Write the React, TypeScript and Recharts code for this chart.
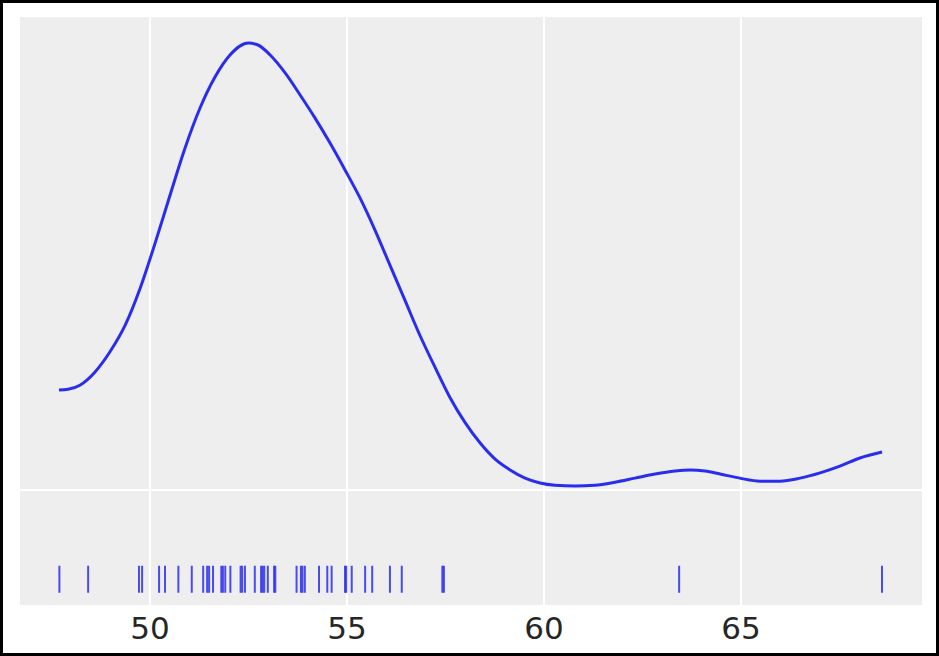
import React from "react";
import {
  ComposedChart,
  Line,
  Scatter,
  XAxis,
  YAxis,
  CartesianGrid,
  ReferenceLine,
} from "recharts";

// KDE curve: x values and density values
const kdeX = [
  47.69, 47.92, 48.22, 48.6, 48.98, 49.37, 49.75, 50.13, 50.51, 50.89, 51.27,
  51.65, 52.03, 52.28, 52.49, 52.74, 53.05, 53.43, 53.81, 54.19, 54.57, 54.95,
  55.33, 55.71, 56.09, 56.47, 56.85, 57.23, 57.61, 57.99, 58.38, 58.76, 59.14,
  59.52, 59.9, 60.28, 60.79, 61.29, 61.8, 62.31, 62.82, 63.32, 63.71, 64.09,
  64.47, 64.97, 65.48, 65.99, 66.5, 67.01, 67.51, 68.02, 68.58,
];
const kdeDensity = [
  0.0268, 0.027, 0.0281, 0.0316, 0.037, 0.0442, 0.0541, 0.0662, 0.0791,
  0.0917, 0.1024, 0.1107, 0.1166, 0.119, 0.1198, 0.1193, 0.1166, 0.1118,
  0.1059, 0.0997, 0.093, 0.0858, 0.0783, 0.0697, 0.0603, 0.0509, 0.0415,
  0.033, 0.0249, 0.0182, 0.0126, 0.0083, 0.0054, 0.0032, 0.0019, 0.0013,
  0.0011, 0.0013, 0.0021, 0.0032, 0.0043, 0.0051, 0.0054, 0.0051, 0.0043,
  0.0032, 0.0024, 0.0024, 0.0032, 0.0046, 0.0064, 0.0086, 0.0102,
];

// Rug observations
const rugValues = [
  47.7, 48.43, 49.72, 49.8, 50.23, 50.38, 50.72, 51.06, 51.35, 51.45, 51.5,
  51.6, 51.81, 51.85, 51.91, 52.04, 52.3, 52.34, 52.41, 52.66, 52.82, 52.86,
  52.9, 52.99, 53.15, 53.18, 53.72, 53.83, 53.87, 53.93, 54.29, 54.5, 54.61,
  54.95, 54.98, 55.12, 55.46, 55.64, 56.09, 56.39, 57.42, 57.46, 63.43, 68.58,
];
const RUG_LEVEL = -0.0239;

const xTicks = [50, 55, 60, 65];
const xDomain = [46.675, 69.62];
const yDomain = [-0.0308, 0.1268];

const kde = kdeX.map((x, i) => ({ x, d: kdeDensity[i] }));
const rug = rugValues.map((x) => ({ x, y: RUG_LEVEL }));

const BLUE = "#2a2eec";

const RugMark = (props: any) => {
  const { cx, cy } = props;
  if (cx == null || cy == null) return null;
  return (
    <line
      x1={cx}
      x2={cx}
      y1={cy - 13.5}
      y2={cy + 13.5}
      stroke={BLUE}
      strokeWidth={2}
      strokeOpacity={0.85}
    />
  );
};

export default function App() {
  return (
    <div
      style={{
        position: "absolute",
        top: 0,
        left: 0,
        width: 939,
        height: 656,
        background: "#ffffff",
      }}
    >
      <ComposedChart
        width={939}
        height={656}
        margin={{ top: 17, right: 16, left: 19, bottom: 0 }}
        style={{ fontFamily: "DejaVu Sans" }}
      >
        <CartesianGrid
          fill="#eeeeee"
          stroke="#ffffff"
          strokeWidth={2}
          horizontal={false}
        />
        <XAxis
          dataKey="x"
          type="number"
          domain={xDomain}
          ticks={xTicks}
          allowDataOverflow
          axisLine={false}
          tickLine={false}
          tickMargin={6}
          height={51}
          tick={{ fontSize: 31, fill: "#262626", fontFamily: "DejaVu Sans" }}
        />
        <YAxis
          type="number"
          domain={yDomain}
          allowDataOverflow
          ticks={[0]}
          hide
        />
        <ReferenceLine y={0} stroke="#ffffff" strokeWidth={2} />
        <Line
          data={kde}
          dataKey="d"
          type="monotone"
          stroke={BLUE}
          strokeWidth={3}
          dot={false}
          isAnimationActive={false}
        />
        <Scatter
          data={rug}
          dataKey="y"
          shape={RugMark}
          isAnimationActive={false}
        />
      </ComposedChart>
      <div
        style={{
          position: "absolute",
          top: 0,
          left: 0,
          width: 939,
          height: 656,
          boxSizing: "border-box",
          border: "3px solid #000000",
          pointerEvents: "none",
        }}
      />
    </div>
  );
}
